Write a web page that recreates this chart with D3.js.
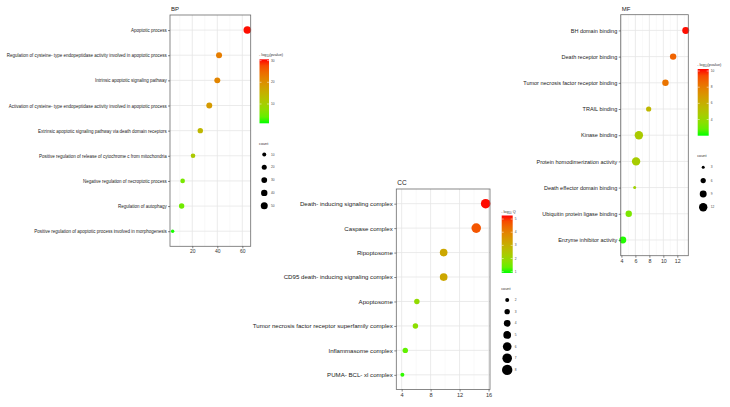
<!DOCTYPE html>
<html><head><meta charset="utf-8">
<script src="https://cdn.jsdelivr.net/npm/d3@7"></script>
<style>
html,body{margin:0;padding:0;background:#fff;}
svg{display:block;font-family:"Liberation Sans",Arial,sans-serif;}
</style></head>
<body>
<svg id="chart" width="730" height="407"></svg>
<script>
// ---------- DATA ----------
const bpTerms = ["Apoptotic process",
  "Regulation of cysteine- type endopeptidase activity involved in apoptotic process",
  "Intrinsic apoptotic signaling pathway",
  "Activation of cysteine- type endopeptidase activity involved in apoptotic process",
  "Extrinsic apoptotic signaling pathway via death domain receptors",
  "Positive regulation of release of cytochrome c from mitochondria",
  "Negative regulation of necroptotic process",
  "Regulation of autophagy",
  "Positive regulation of apoptotic process involved in morphogenesis"];
const bpX = [64, 41.4, 40, 33.6, 26.4, 20.6, 12.3, 11.5, 4.3];
const bpLogP = [30.4, 22.5, 21.5, 18.5, 14, 11, 5.5, 4.8, 1.3];
const bpCount = [61, 33, 33, 33, 25, 16, 16, 25, 6];
const bpXTicks = [20, 40, 60];
const bpColorTicks = [10, 20, 30];
const bpCountTicks = [10, 20, 30, 40, 50];

const ccTerms = ["Death- inducing signaling complex", "Caspase complex", "Ripoptosome",
  "CD95 death- inducing signaling complex", "Apoptosome",
  "Tumor necrosis factor receptor superfamily complex", "Inflammasome complex",
  "PUMA- BCL- xl complex"];
const ccX = [15.6, 14.3, 9.8, 9.8, 6.1, 5.9, 4.5, 4.1];
const ccLogQ = [5.25, 4.7, 3.2, 3.2, 1.9, 1.8, 1.3, 1.0];
const ccCount = [7, 7, 5, 5, 3, 3, 3, 2];
const ccXTicks = [4, 8, 12, 16];
const ccColorTicks = [1, 2, 3, 4, 5];
const ccCountTicks = [2, 3, 4, 5, 6, 7, 8];

const mfTerms = ["BH domain binding", "Death receptor binding",
  "Tumor necrosis factor receptor binding", "TRAIL binding", "Kinase binding",
  "Protein homodimerization activity", "Death effector domain binding",
  "Ubiquitin protein ligase binding", "Enzyme inhibitor activity"];
const mfX = [13.2, 11.4, 10.3, 7.9, 6.5, 6.1, 5.9, 5.05, 4.2];
const mfLogP = [10.2, 8.8, 8.3, 5.6, 4.7, 4.6, 4.3, 3.3, 2.1];
const mfCount = [9, 8, 8, 6, 12, 12, 3, 8, 9];
const mfXTicks = [4, 6, 8, 10, 12];
const mfColorTicks = [4, 6, 8, 10];
const mfCountTicks = [3, 6, 9, 12];

// ---------- DRAW ----------
const svg = d3.select("#chart");
const defs = svg.append("defs");

function panel(o) {
  const g = svg.append("g");
  const x = d3.scaleLinear().domain(o.xDomain).range([o.left, o.right]);
  const y = d3.scalePoint().domain(o.terms).range([o.top, o.bottom]).padding(0.6);
  const color = d3.scaleLinear().domain(o.cDomain).range(["#00ff00", "#ff0000"]).interpolate(d3.interpolateLab);
  const r = d3.scaleSqrt().domain(o.sDomain).range(o.rRange);

  g.append("rect").attr("x", o.left).attr("y", o.top)
    .attr("width", o.right - o.left).attr("height", o.bottom - o.top).attr("fill", "#fff");

  // minor vertical grid
  const step = o.xTicks[1] - o.xTicks[0];
  const minor = [];
  for (let v = o.xTicks[0] - step / 2; v <= o.xDomain[1]; v += step)
    if (v >= o.xDomain[0]) minor.push(v);
  g.selectAll(".mn").data(minor).join("line")
    .attr("x1", d => x(d)).attr("x2", d => x(d)).attr("y1", o.top).attr("y2", o.bottom)
    .attr("stroke", "#f2f2f2").attr("stroke-width", 0.5);
  g.selectAll(".mj").data(o.xTicks).join("line")
    .attr("x1", d => x(d)).attr("x2", d => x(d)).attr("y1", o.top).attr("y2", o.bottom)
    .attr("stroke", "#e6e6e6").attr("stroke-width", 0.8);
  g.selectAll(".hg").data(o.terms).join("line")
    .attr("x1", o.left).attr("x2", o.right).attr("y1", d => y(d)).attr("y2", d => y(d))
    .attr("stroke", "#e6e6e6").attr("stroke-width", 0.8);

  // points
  g.selectAll(".pt").data(o.terms).join("circle")
    .attr("cx", (d, i) => x(o.xs[i])).attr("cy", d => y(d))
    .attr("r", (d, i) => r(o.counts[i]))
    .attr("fill", (d, i) => color(o.cs[i]));

  g.append("rect").attr("x", o.left).attr("y", o.top)
    .attr("width", o.right - o.left).attr("height", o.bottom - o.top)
    .attr("fill", "none").attr("stroke", "#6b6b6b").attr("stroke-width", 0.8);

  // axes
  const ya = g.append("g").attr("transform", `translate(${o.left},0)`)
    .call(d3.axisLeft(y).tickSize(2).tickPadding(1.5));
  ya.select(".domain").remove();
  ya.selectAll("line").attr("stroke", "#333").attr("stroke-width", 0.6);
  ya.selectAll("text").attr("fill", "#222").style("font-size", o.labelSize + "px")
    .attr("transform", `scale(${o.labelScale},1)`);

  const xa = g.append("g").attr("transform", `translate(0,${o.bottom})`)
    .call(d3.axisBottom(x).tickValues(o.xTicks).tickSize(2).tickPadding(1.5));
  xa.select(".domain").remove();
  xa.selectAll("line").attr("stroke", "#333").attr("stroke-width", 0.6);
  xa.selectAll("text").attr("fill", "#333").style("font-size", o.tickSize + "px");

  g.append("text").attr("x", o.left + 1).attr("y", o.top - 4)
    .style("font-size", o.titleSize + "px").attr("fill", "#222").text(o.title);

  // colour legend
  const L = o.leg;
  const gid = "grad" + o.title;
  const grad = defs.append("linearGradient").attr("id", gid)
    .attr("x1", 0).attr("x2", 0).attr("y1", 1).attr("y2", 0);
  d3.range(0, 1.0001, 0.1).forEach(t => {
    grad.append("stop").attr("offset", t)
      .attr("stop-color", color(o.cDomain[0] + t * (o.cDomain[1] - o.cDomain[0])));
  });
  const ct = g.append("text").attr("x", L.x - 0.5).attr("y", L.barTop - 3)
    .style("font-size", "3.8px").attr("fill", "#333");
  ct.append("tspan").text("- log");
  ct.append("tspan").attr("dy", 1).style("font-size", "2.7px").text("10");
  ct.append("tspan").attr("dy", -1).text(o.legTitle);
  g.append("rect").attr("x", L.x).attr("y", L.barTop).attr("width", L.w)
    .attr("height", L.barBot - L.barTop).attr("fill", `url(#${gid})`);
  const cy = d3.scaleLinear().domain(o.cDomain).range([L.barBot, L.barTop]);
  o.colorTicks.forEach(v => {
    g.append("line").attr("x1", L.x).attr("x2", L.x + 2).attr("y1", cy(v)).attr("y2", cy(v))
      .attr("stroke", "#fff").attr("stroke-width", 0.5);
    g.append("line").attr("x1", L.x + L.w - 2).attr("x2", L.x + L.w).attr("y1", cy(v)).attr("y2", cy(v))
      .attr("stroke", "#fff").attr("stroke-width", 0.5);
    g.append("text").attr("x", L.x + L.w + 2).attr("y", cy(v) + 1.1)
      .style("font-size", "3.2px").attr("fill", "#444").text(v);
  });
  // count legend
  g.append("text").attr("x", L.x - 0.5).attr("y", L.countTop)
    .style("font-size", "3.8px").attr("fill", "#333").text("count");
  o.countTicks.forEach((v, i) => {
    const yy = L.countTop + L.firstGap + i * L.gap;
    g.append("circle").attr("cx", L.x + L.w / 2).attr("cy", yy).attr("r", r(v)).attr("fill", "#000");
    g.append("text").attr("x", L.x + L.w + 2).attr("y", yy + 1.1)
      .style("font-size", "3.2px").attr("fill", "#444").text(v);
  });
}

panel({
  title: "BP", terms: bpTerms, xs: bpX, cs: bpLogP, counts: bpCount,
  xDomain: [2.2, 66.7], left: 170, right: 250.7, top: 15, bottom: 246.3,
  cDomain: [1.1, 30.6], sDomain: [10, 50], rRange: [2, 3.5],
  xTicks: bpXTicks, colorTicks: bpColorTicks, countTicks: bpCountTicks,
  labelSize: 4.9, labelScale: 0.92,
  tickSize: 5, titleSize: 6,
  legTitle: "(pvalue)",
  leg: { x: 259.5, w: 9.5, barTop: 59.3, barBot: 123.3, countTop: 145, firstGap: 9.5, gap: 12.8 }
});

panel({
  title: "CC", terms: ccTerms, xs: ccX, cs: ccLogQ, counts: ccCount,
  xDomain: [3.26, 16.2], left: 396.3, right: 490, top: 189, bottom: 389.5,
  cDomain: [0.9, 5.27], sDomain: [2, 8], rRange: [2, 5.2],
  xTicks: ccXTicks, colorTicks: ccColorTicks, countTicks: ccCountTicks,
  labelSize: 6.1, labelScale: 1,
  tickSize: 5.6, titleSize: 6.5,
  legTitle: " Q",
  leg: { x: 501.7, w: 11, barTop: 215.5, barBot: 273, countTop: 289.5, firstGap: 10.5, gap: 11.65 }
});

panel({
  title: "MF", terms: mfTerms, xs: mfX, cs: mfLogP, counts: mfCount,
  xDomain: [3.9, 13.57], left: 620.7, right: 688.3, top: 14.7, bottom: 255.7,
  cDomain: [2.0, 10.25], sDomain: [3, 12], rRange: [1.5, 4.2],
  xTicks: mfXTicks, colorTicks: mfColorTicks, countTicks: mfCountTicks,
  labelSize: 5.5, labelScale: 1,
  tickSize: 5.3, titleSize: 6,
  legTitle: "(pvalue)",
  leg: { x: 697.7, w: 11, barTop: 69, barBot: 135.7, countTop: 157, firstGap: 10.3, gap: 13.3 }
});
</script>
</body></html>
